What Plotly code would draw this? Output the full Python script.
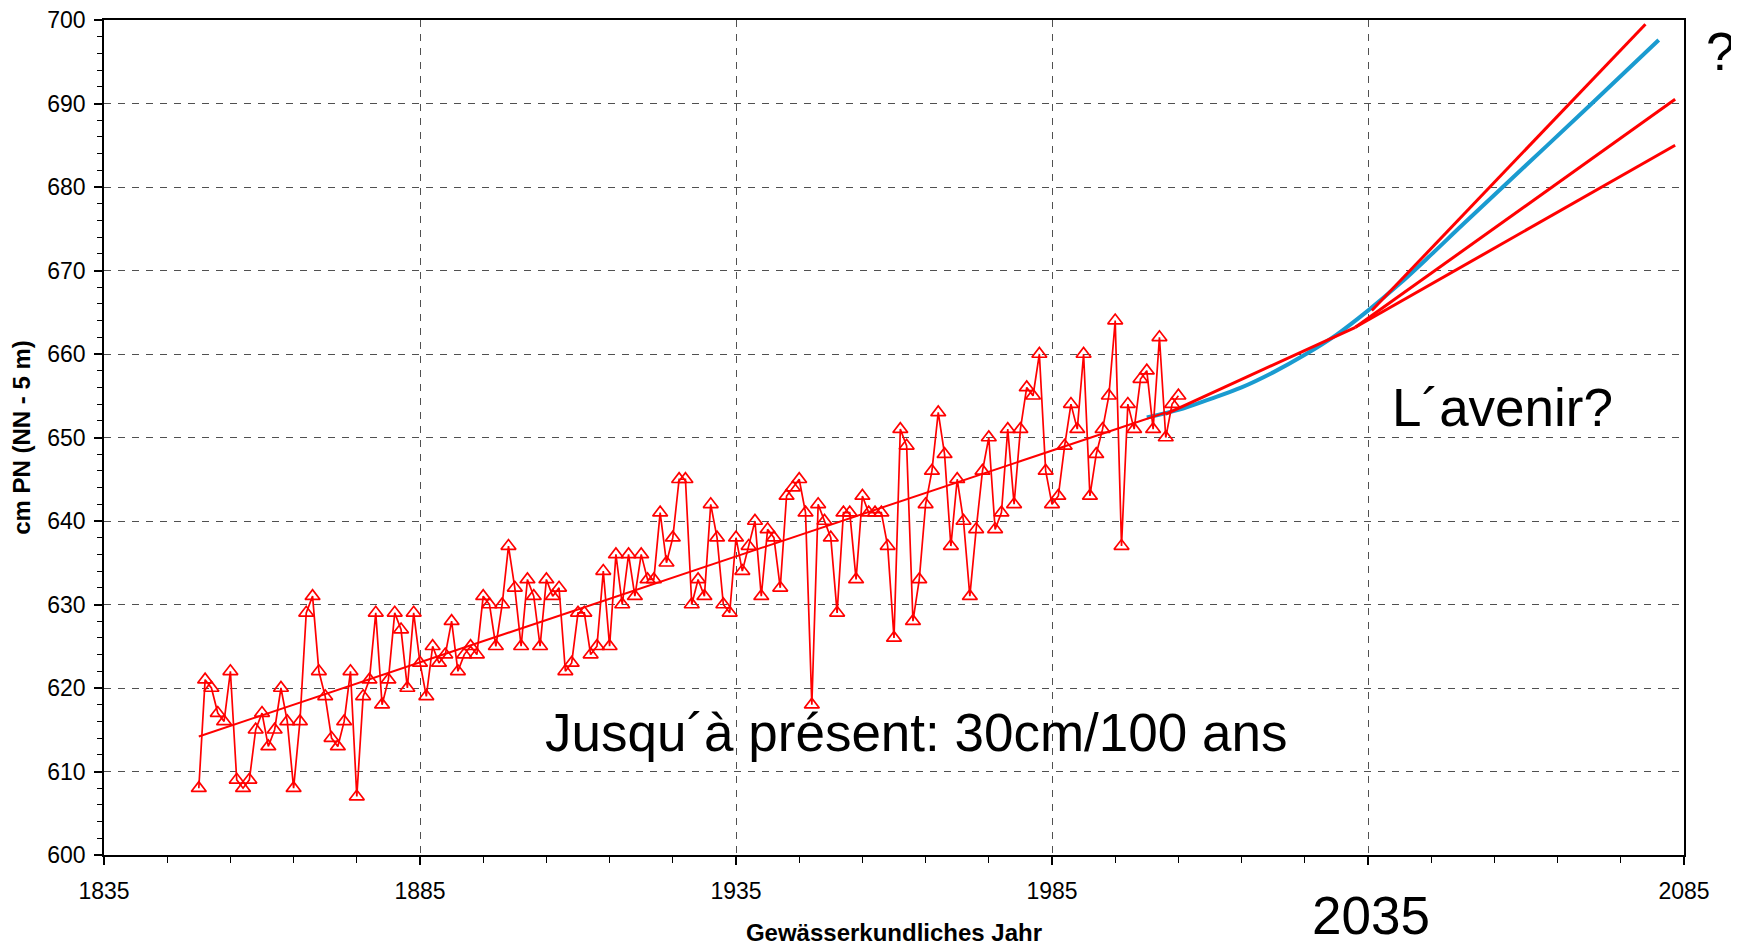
import plotly.graph_objects as go

# ---------------- data ----------------
years = list(range(1850, 2006))
levels = [
    608, 621, 620, 617, 616, 622, 609, 608, 609, 615,
    617, 613, 615, 620, 616, 608, 616, 629, 631, 622,
    619, 614, 613, 616, 622, 607, 619, 621, 629, 618,
    621, 629, 627, 620, 629, 623, 619, 625, 623, 624,
    628, 622, 624, 625, 624, 631, 630, 625, 630, 637,
    632, 625, 633, 631, 625, 633, 631, 632, 622, 623,
    629, 629, 624, 625, 634, 625, 636, 630, 636, 631,
    636, 633, 633, 641, 635, 638, 645, 645, 630, 633,
    631, 642, 638, 630, 629, 638, 634, 637, 640, 631,
    639, 638, 632, 643, 644, 645, 641, 618, 642, 640,
    638, 629, 641, 641, 633, 643, 641, 641, 641, 637,
    626, 651, 649, 628, 633, 642, 646, 653, 648, 637,
    645, 640, 631, 639, 646, 650, 639, 641, 651, 642,
    651, 656, 655, 660, 646, 642, 643, 649, 654, 651,
    660, 643, 648, 651, 655, 664, 637, 654, 651, 657,
    658, 651, 662, 650, 654, 655,
]

trend_years = [1850, 2003]
trend_values = [614.2, 653.0]

future_years = [2003, 2033]
future_values = [652.8, 663.2]

steep_years = [2035.6, 2078.9]
steep_values = [665.2, 699.5]
mid_years = [2033, 2083.6]
mid_values = [663.2, 690.5]
low_years = [2033, 2083.6]
low_values = [663.2, 685.0]

blue_years = [2000, 2005, 2010, 2015, 2020, 2025, 2030, 2035, 2040, 2045,
              2050, 2060, 2070, 2081]
blue_values = [652.4, 653.3, 654.6, 656.0, 657.8, 659.9, 662.3, 665.2, 668.4,
               671.9, 675.5, 682.6, 689.7, 697.6]

x_tickvals = [1835, 1885, 1935, 1985, 2035, 2085]
x_ticktext = ["1835", "1885", "1935", "1985", "", "2085"]
y_tickvals = [600, 610, 620, 630, 640, 650, 660, 670, 680, 690, 700]

RED = "#FF0000"
BLUE = "#1A9BD0"
FONT = "Liberation Sans, Arial, sans-serif"

fig = go.Figure()

fig.add_trace(go.Scatter(
    x=blue_years, y=blue_values, mode="lines",
    line=dict(color=BLUE, width=4, shape="spline", smoothing=1.0),
    hoverinfo="skip", showlegend=False))

fig.add_trace(go.Scatter(
    x=years, y=levels, mode="lines+markers",
    line=dict(color=RED, width=1.7),
    marker=dict(symbol="triangle-up-open", size=13, color=RED,
                line=dict(color=RED, width=1.7)),
    showlegend=False))

fig.add_trace(go.Scatter(x=trend_years, y=trend_values, mode="lines",
                         line=dict(color=RED, width=2), showlegend=False))
for xs, ys in [(future_years, future_values), (steep_years, steep_values),
               (mid_years, mid_values), (low_years, low_values)]:
    fig.add_trace(go.Scatter(x=xs, y=ys, mode="lines",
                             line=dict(color=RED, width=3), showlegend=False))

big = dict(family=FONT, size=53, color="black")
fig.add_annotation(text="Jusqu´à présent: 30cm/100 ans", xref="paper", yref="paper",
                   x=0.514, y=0.147, xanchor="center", yanchor="middle",
                   showarrow=False, font=big)
fig.add_annotation(text="L´avenir?", xref="paper", yref="paper",
                   x=0.814, y=0.536, xanchor="left", yanchor="middle",
                   showarrow=False, font=big)
fig.add_annotation(text="?", xref="paper", yref="paper",
                   x=1.0125, y=0.962, xanchor="left", yanchor="middle",
                   showarrow=False, font=big)
fig.add_annotation(text="2035", xref="paper", yref="paper",
                   x=0.802, y=-0.0725, xanchor="center", yanchor="middle",
                   showarrow=False, font=big)

grid = dict(showgrid=True, gridcolor="#505050", gridwidth=1.2, griddash="7px,7px")

fig.update_xaxes(
    range=[1835, 2085], tickvals=x_tickvals, ticktext=x_ticktext,
    showline=True, linecolor="black", linewidth=1.8, mirror=True,
    ticks="outside", ticklen=8, tickwidth=1.5, tickcolor="black",
    ticklabelstandoff=6, ticklabeloverflow="allow",
    minor=dict(dtick=10, tick0=1835, ticks="outside", ticklen=6, tickwidth=1.2,
               tickcolor="black", showgrid=False),
    tickfont=dict(family=FONT, size=23, color="black"),
    title=dict(text="Gewässerkundliches Jahr",
               font=dict(family=FONT, size=24, color="black", weight="bold"),
               standoff=22),
    zeroline=False, **grid)

fig.update_yaxes(
    range=[600, 700], tickvals=y_tickvals,
    showline=True, linecolor="black", linewidth=1.8, mirror=True,
    ticks="outside", ticklen=8, tickwidth=1.5, tickcolor="black",
    ticklabelstandoff=4, ticklabeloverflow="allow",
    minor=dict(dtick=2, tick0=600, ticks="outside", ticklen=5, tickwidth=1.2,
               tickcolor="black", showgrid=False),
    tickfont=dict(family=FONT, size=23, color="black"),
    title=dict(text="cm PN (NN - 5 m)",
               font=dict(family=FONT, size=24, color="black", weight="bold"),
               standoff=12),
    zeroline=False, **grid)

# page body has an 8px margin: shrink the figure so the plot area lands
# at the same page position as the reference
fig.update_layout(
    width=1731, height=938,
    margin=dict(l=96, r=55, t=12, b=91, autoexpand=False),
    paper_bgcolor="white", plot_bgcolor="white",
    showlegend=False,
)

fig.write_html("out.html")
